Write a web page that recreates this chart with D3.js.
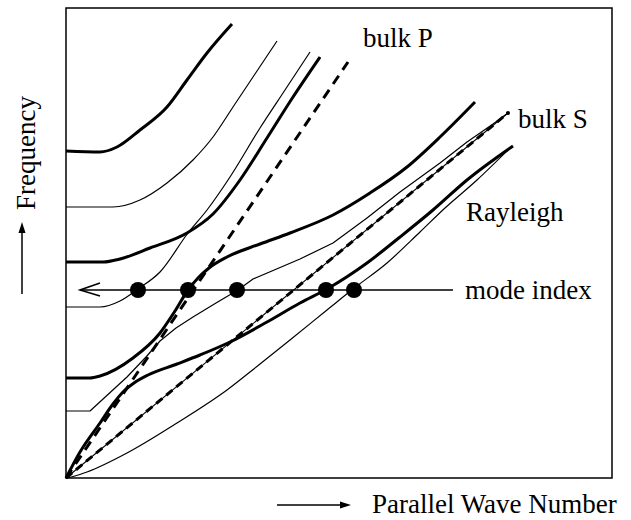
<!DOCTYPE html>
<html><head><meta charset="utf-8">
<script src="https://cdn.jsdelivr.net/npm/d3@7/dist/d3.min.js"></script>
<style>body{margin:0;background:#fff}</style>
</head><body>
<svg id="c" width="631" height="520"></svg>
<script>
// Schematic dispersion curves (arbitrary units: wave number 0..546, frequency 0..470)
const thickA = [[0,327],[34,326],[51,331],[74,348],[101,371],[121,398],[141,425],[166,454]];
const thinB  = [[0,271],[47,271],[74,278],[101,295],[127,318],[147,341],[167,371],[187,401],[211,437]];
const thickC = [[0,216],[37,216],[54,219],[84,230],[121,245],[147,264],[174,298],[201,340],[227,381],[254,421]];
const thinD  = [[0,171],[34,171],[54,177],[72,189],[94,206],[122,245],[141,268],[164,301],[194,350],[219,388],[244,426]];
const thickF = [[0,100],[24,100],[34,102],[67,120],[94,145],[109,167],[122,188],[132,200],[143,210],[161,221],[194,234],[224,245],[267,263],[304,285],[341,311],[374,341],[409,376]];
const thinG  = [[0,67],[24,67],[61,101],[80,121],[94,137],[110,150],[127,161],[150,175],[172,188],[187,199],[234,219],[267,235],[301,260],[334,286],[374,315],[401,336],[427,354],[442,365]];
const thickE = [[0,0],[14,26],[34,55],[47,74],[57,86],[68,95],[82,103],[111,114],[134,123],[164,136],[201,156],[234,175],[261,189],[301,215],[334,241],[367,268],[401,298],[447,332]];
const thinH  = [[0,0],[9,2],[21,6],[61,25],[111,55],[161,88],[194,114],[224,138],[261,168],[287,189],[321,215],[354,246],[379,270],[411,298],[445,331]];
const bulkP  = [[0,0],[282,416]];
const bulkS  = [[0,0],[442,365]];
const modeY = 188;
const modeLineX = [14, 387];
const modeDotsX = [72, 122, 171, 260, 288];
const labels = ["bulk P", "bulk S", "Rayleigh", "mode index"];
const xTitle = "Parallel Wave Number";
const yTitle = "Frequency";

const svg = d3.select("#c");
const x = d3.scaleLinear().domain([0,546]).range([66,612]);
const y = d3.scaleLinear().domain([0,470]).range([478,8]);
const smooth = d3.line().x(d=>x(d[0])).y(d=>y(d[1])).curve(d3.curveMonotoneX);
const straight = d3.line().x(d=>x(d[0])).y(d=>y(d[1]));

const g = svg.append("g").attr("fill","none").attr("stroke","#000");

// thin curves
[thinB, thinD, thinH].forEach(c => g.append("path").attr("d", smooth(c)).attr("stroke-width",1.2));
g.append("path").attr("d", straight(thinG)).attr("stroke-width",1.2).attr("stroke-linejoin","round");
g.append("path").attr("d", straight(bulkS)).attr("stroke-width",1.1);

// thick curves
[thickA, thickC, thickF, thickE].forEach(c => g.append("path").attr("d", smooth(c)).attr("stroke-width",3));

// bulk lines dashed
g.append("path").attr("d", straight(bulkP)).attr("stroke-width",3).attr("stroke-dasharray","10,7");
g.append("path").attr("d", straight(bulkS)).attr("stroke-width",3).attr("stroke-dasharray","8,5");
svg.append("circle").attr("cx", x(bulkS[1][0])).attr("cy", y(bulkS[1][1])).attr("r",2).attr("fill","#000");

// frame
svg.append("rect").attr("x",x(0)).attr("y",y(470)).attr("width",x(546)-x(0)).attr("height",y(0)-y(470))
  .attr("fill","none").attr("stroke","#000").attr("stroke-width",1.5);

// mode index line with open arrow
const my = y(modeY);
svg.append("line").attr("x1",x(modeLineX[0])).attr("x2",x(modeLineX[1])).attr("y1",my).attr("y2",my)
  .attr("stroke","#000").attr("stroke-width",1.6);
svg.append("path").attr("d",`M${x(modeLineX[0])+20},${my-7} L${x(modeLineX[0])},${my} L${x(modeLineX[0])+20},${my+6}`)
  .attr("fill","none").attr("stroke","#000").attr("stroke-width",1.6);
svg.selectAll("circle.dot").data(modeDotsX).enter().append("circle").attr("class","dot")
  .attr("cx",d=>x(d)).attr("cy",my).attr("r",8).attr("fill","#000");

// labels
const font = "'Liberation Serif','Times New Roman',serif";
const tl = svg.append("g").attr("font-family",font).attr("font-size",27).attr("fill","#000");
tl.append("text").attr("x",363).attr("y",47).text(labels[0]);
tl.append("text").attr("x",518).attr("y",128).text(labels[1]);
tl.append("text").attr("x",466).attr("y",221).text(labels[2]);
tl.append("text").attr("x",465).attr("y",299).text(labels[3]);
tl.append("text").attr("x",372).attr("y",513).text(xTitle);
tl.append("text").attr("transform","translate(35,153) rotate(-90)").attr("text-anchor","middle").text(yTitle);

// axis arrows
svg.append("line").attr("x1",277).attr("x2",342).attr("y1",505).attr("y2",505).attr("stroke","#000").attr("stroke-width",1.5);
svg.append("path").attr("d","M351,505 L340,501.5 L340,508.5 Z").attr("fill","#000");
svg.append("line").attr("x1",22).attr("x2",22).attr("y1",294).attr("y2",232).attr("stroke","#000").attr("stroke-width",1.5);
svg.append("path").attr("d","M22,222 L18.5,233 L25.5,233 Z").attr("fill","#000");
</script>
</body></html>
